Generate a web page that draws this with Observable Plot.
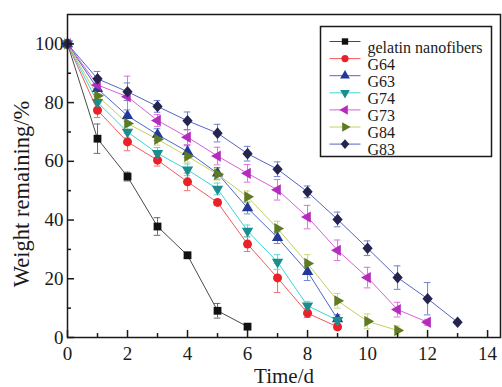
<!DOCTYPE html>
<html>
<head>
<meta charset="utf-8">
<script src="https://cdn.jsdelivr.net/npm/d3@7"></script>
<script src="https://cdn.jsdelivr.net/npm/@observablehq/plot@0.6"></script>
<style>
  body { margin: 0; background: #fff; }
</style>
</head>
<body>
<div id="chart"></div>
<script>
// Weight remaining (%) of the nanofiber mats over the degradation time (days).
// Each series starts at day 0 and is sampled once a day; errors are ± standard deviations.
const seriesNames = ["gelatin nanofibers", "G64", "G63", "G74", "G73", "G84", "G83"];

const gelatinValues = [100, 67.7, 54.8, 37.8, 28.0, 9.1, 3.7];
const gelatinErrors = [0, 5.0, 1.5, 3.0, 1.0, 2.5, 1.0];

const g64Values = [100, 77.4, 66.6, 60.4, 53.0, 46.0, 31.8, 20.3, 8.3, 3.6];
const g64Errors = [0, 2.5, 3.0, 2.0, 3.0, 1.0, 2.5, 5.0, 1.5, 1.0];

const g63Values = [100, 84.7, 75.5, 69.1, 63.3, 55.9, 44.1, 34.0, 22.4, 6.3];
const g63Errors = [0, 2.0, 2.0, 2.0, 2.0, 2.0, 2.0, 2.0, 3.0, 1.5];

const g74Values = [100, 80.1, 70.0, 62.7, 57.1, 50.6, 36.3, 25.7, 10.8, 5.9];
const g74Errors = [0, 2.0, 2.0, 2.0, 2.0, 2.0, 2.0, 2.5, 1.5, 1.5];

const g73Values = [100, 86.0, 82.0, 73.9, 68.2, 61.8, 55.9, 50.3, 41.0, 29.7, 20.4, 9.5, 5.2];
const g73Errors = [0, 2.0, 7.0, 2.0, 2.5, 3.0, 3.0, 3.5, 4.0, 3.5, 3.5, 2.5, 1.0];

const g84Values = [100, 82.3, 72.9, 67.5, 61.7, 55.6, 47.9, 37.1, 25.2, 12.5, 5.5, 2.4];
const g84Errors = [0, 2.0, 2.0, 2.0, 2.0, 2.0, 2.0, 2.5, 3.0, 2.5, 2.5, 1.5];

const g83Values = [100, 88.1, 83.7, 78.7, 73.8, 69.6, 62.6, 57.3, 49.6, 40.2, 30.4, 20.4, 13.2, 5.2];
const g83Errors = [0, 2.5, 3.0, 2.0, 3.0, 3.0, 2.5, 2.5, 2.0, 2.5, 2.5, 4.0, 5.5, 0.5];

const xTicks = [0, 2, 4, 6, 8, 10, 12, 14];
const xMinorTicks = [1, 3, 5, 7, 9, 11, 13];
const yTicks = [0, 20, 40, 60, 80, 100];
const yMinorTicks = [10, 30, 50, 70, 90];
const xTitle = "Time/d";
const yTitle = "Weight remaining/%";

const serif = "'Liberation Serif', 'Times New Roman', serif";
const ink = "#1a1a1a";

// ---- marker shapes ----
const sqrt3 = Math.sqrt(3);
function triangle(angleDeg) {
  const a = angleDeg * Math.PI / 180;
  return {
    draw(ctx, size) {
      const y = -Math.sqrt(size / (sqrt3 * 3));
      const pts = [[0, y * 2], [-sqrt3 * y, -y], [sqrt3 * y, -y]];
      pts.forEach(([px, py], i) => {
        const rx = px * Math.cos(a) - py * Math.sin(a);
        const ry = px * Math.sin(a) + py * Math.cos(a);
        if (i) ctx.lineTo(rx, ry); else ctx.moveTo(rx, ry);
      });
      ctx.closePath();
    }
  };
}
const diamond = {
  draw(ctx, size) {
    const d = Math.sqrt(size / 2);
    ctx.moveTo(0, -d * 1.08);
    ctx.lineTo(d * 0.95, 0);
    ctx.lineTo(0, d * 1.08);
    ctx.lineTo(-d * 0.95, 0);
    ctx.closePath();
  }
};
// short horizontal stroke used for the legend line samples
const legendStroke = {
  draw(ctx) {
    ctx.moveTo(-15.5, 0);
    ctx.lineTo(15.5, 0);
  }
};

const styles = {
  "gelatin nanofibers": {values: gelatinValues, errors: gelatinErrors, symbol: d3.symbolSquare, r: 4.4, fill: "#111111", line: "#4a4a4a", err: "#6a6a6a"},
  "G64": {values: g64Values, errors: g64Errors, symbol: d3.symbolCircle, r: 4.5, fill: "#ea2228", line: "#f25a5a", err: "#f07070"},
  "G63": {values: g63Values, errors: g63Errors, symbol: triangle(0), r: 4.2, fill: "#22389a", line: "#4a68c8", err: "#6a88d8"},
  "G74": {values: g74Values, errors: g74Errors, symbol: triangle(180), r: 4.2, fill: "#1a8e8e", line: "#40d4d4", err: "#60d8d8"},
  "G73": {values: g73Values, errors: g73Errors, symbol: triangle(-90), r: 4.2, fill: "#b42cbc", line: "#d85ed8", err: "#e070e0"},
  "G84": {values: g84Values, errors: g84Errors, symbol: triangle(90), r: 4.2, fill: "#5e7a22", line: "#c4d060", err: "#cdd878"},
  "G83": {values: g83Values, errors: g83Errors, symbol: diamond, r: 4.3, fill: "#24244e", line: "#5664c4", err: "#7080d0"}
};

const rowsBySeries = seriesNames.map(name =>
  styles[name].values.map((v, i) => ({series: name, day: i, value: v, err: styles[name].errors[i]}))
);

const lineMarks = rowsBySeries.map((rows, k) =>
  Plot.line(rows, {x: "day", y: "value", stroke: styles[seriesNames[k]].line, strokeWidth: 1})
);
const errMarks = rowsBySeries.flatMap((rows, k) => {
  const s = styles[seriesNames[k]];
  const withErr = rows.filter(d => d.err > 0);
  return [
    Plot.ruleX(withErr, {x: "day", y1: d => d.value - d.err, y2: d => d.value + d.err, stroke: s.err, strokeWidth: 1}),
    Plot.ruleY(withErr, {y: d => d.value + d.err, x1: d => d.day - 0.11, x2: d => d.day + 0.11, stroke: s.err, strokeWidth: 1}),
    Plot.ruleY(withErr, {y: d => d.value - d.err, x1: d => d.day - 0.11, x2: d => d.day + 0.11, stroke: s.err, strokeWidth: 1})
  ];
});
const dotMarks = rowsBySeries.map((rows, k) => {
  const s = styles[seriesNames[k]];
  return Plot.dot(rows, {x: "day", y: "value", symbol: s.symbol, r: s.r, fill: s.fill, stroke: "none"});
});

// legend box (upper right of the frame), placed relative to the frame's top-left corner
const legendLeft = 253, legendTop = 12, legendRowStep = 17.1, legendFirstRow = 27;
const legendMarks = [
  Plot.frame({fill: "#fff", stroke: ink, strokeWidth: 1.5, insetLeft: legendLeft, insetTop: legendTop, insetRight: 9, insetBottom: 181}),
  ...seriesNames.flatMap((name, i) => {
    const s = styles[name];
    const dy = legendFirstRow + i * legendRowStep;
    return [
      Plot.dot([name], {frameAnchor: "top-left", dx: legendLeft + 24.5, dy, symbol: legendStroke, r: 1, fill: "none", stroke: s.line, strokeWidth: 1}),
      Plot.dot([name], {frameAnchor: "top-left", dx: legendLeft + 24.5, dy, symbol: s.symbol, r: 3.6, fill: s.fill, stroke: "none"}),
      Plot.text([name], {frameAnchor: "top-left", dx: legendLeft + 47, dy, textAnchor: "start", fontSize: 16, fill: ink})
    ];
  })
];

const plot = Plot.plot({
  width: 502,
  height: 387,
  marginLeft: 67,
  marginRight: 2,
  marginTop: 14,
  marginBottom: 50,
  x: {domain: [0, 14.43], label: null},
  y: {domain: [0, 110], label: null},
  style: "font-size: 19px; background: #fff; color: #1a1a1a;",
  marks: [
    ...lineMarks,
    ...errMarks,
    ...dotMarks,
    Plot.frame({stroke: ink, strokeWidth: 1.5}),
    Plot.axisX({ticks: xTicks, tickSize: -7, tickFormat: () => "", label: null, strokeWidth: 1.5}),
    Plot.axisX({ticks: xMinorTicks, tickSize: -4, tickFormat: () => "", label: null, strokeWidth: 1.5}),
    Plot.axisX({ticks: xTicks, tickSize: 0, tickPadding: 9, label: null, fontSize: 19, fill: ink}),
    Plot.axisY({ticks: yTicks, tickSize: -7, tickFormat: () => "", label: null, strokeWidth: 1.5}),
    Plot.axisY({ticks: yMinorTicks, tickSize: -4, tickFormat: () => "", label: null, strokeWidth: 1.5}),
    Plot.axisY({ticks: yTicks, tickSize: 0, tickPadding: 4, label: null, fontSize: 19, fill: ink}),
    Plot.text([xTitle], {frameAnchor: "bottom", dy: 45, lineAnchor: "bottom", fontSize: 21, fill: ink}),
    Plot.text([yTitle], {frameAnchor: "left", dx: -45.5, dy: 18, textAnchor: "middle", lineAnchor: "middle", rotate: -90, fontSize: 22.5, fill: ink}),
    ...legendMarks
  ]
});

// every label in the figure is set in a Times-like serif
d3.select(plot).selectAll("text, tspan").attr("font-family", null).style("font-family", serif).style("font-weight", "normal");

document.getElementById("chart").appendChild(plot);
</script>
</body>
</html>
